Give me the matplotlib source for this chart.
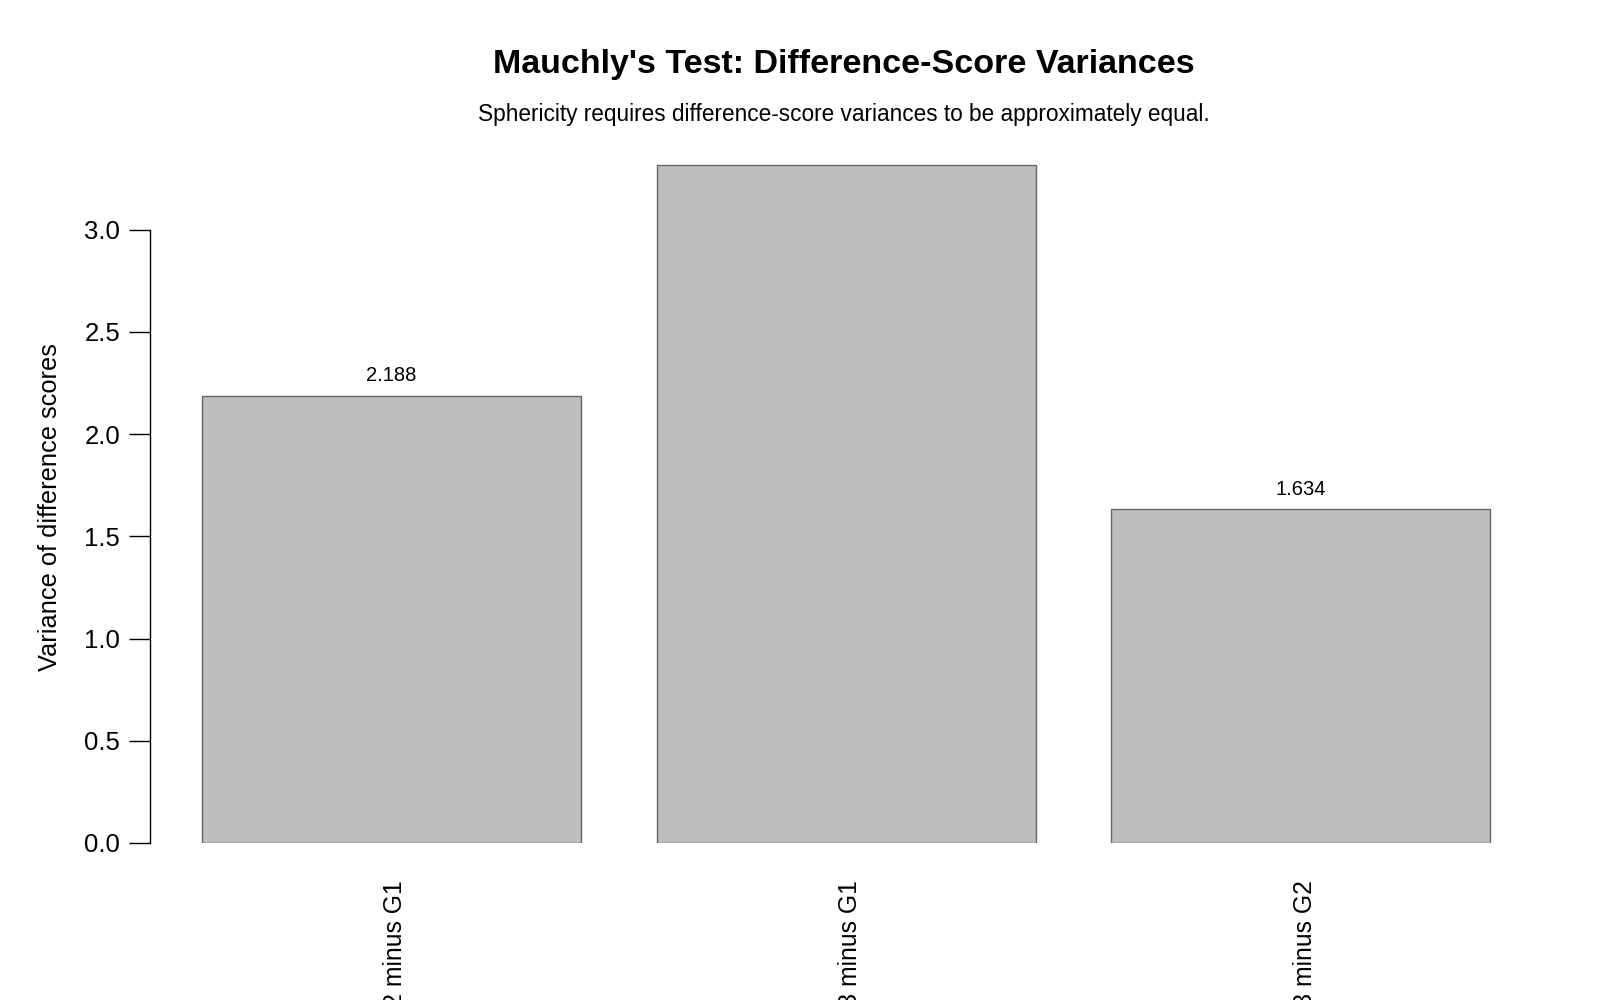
import matplotlib
matplotlib.use("Agg")
import matplotlib.pyplot as plt
import matplotlib.transforms as mtransforms
import numpy as np

plt.rcParams['font.family'] = ['Liberation Sans', 'DejaVu Sans']

# data
comparisons = ['G2 minus G1', 'G3 minus G1', 'G3 minus G2']
variances = [2.188, 3.316, 1.634]
yticks = [0.0, 0.5, 1.0, 1.5, 2.0, 2.5, 3.0]

title = "Mauchly's Test: Difference-Score Variances"
subtitle = "Sphericity requires difference-score variances to be approximately equal."

#########################################################
fig = plt.figure(figsize=(16, 10), dpi=100)

# axes: left edge at the y axis line, bottom at y = 0
ax = fig.add_axes([150 / 1600, 157 / 1000, 1395 / 1600, 689 / 1000])

# R barplot layout: width 1, space 0.2
centers = 0.7 + 1.2 * np.arange(len(variances))
ax.bar(centers, variances, width=1.0, color='#bebebe', edgecolor='#666666', linewidth=1.0)

ax.set_xlim(0.063, 3.744)
ax.set_ylim(0, 3.37)

# value labels above bars (clipped like R does)
for xc, v in zip(centers, variances):
    ax.text(xc, v + 0.05, f"{v:.3f}", ha='center', va='bottom', fontsize=14.5, clip_on=True)

# axes styling
for side in ['top', 'right', 'bottom']:
    ax.spines[side].set_visible(False)
ax.spines['left'].set_bounds(0, 3.0)
ax.spines['left'].set_linewidth(1.0)

ax.set_yticks(yticks)
ax.set_yticklabels([f"{t:.1f}" for t in yticks], fontsize=18.5)
ax.tick_params(axis='y', length=15, width=1.0, pad=6.5)

ax.set_xticks(centers)
ax.set_xticklabels(comparisons, rotation=90, fontsize=17.8, va='top')
ax.tick_params(axis='x', length=0, pad=26.5)
shift = mtransforms.ScaledTranslation(4 / 100, 0, fig.dpi_scale_trans)
for lab in ax.get_xticklabels():
    lab.set_transform(lab.get_transform() + shift)

ax.set_ylabel("Variance of difference scores", fontsize=18.3)
ax.yaxis.set_label_coords(-88 / 1395, (843 - 507) / 689)

fig.text(0.5 * (492 + 1195) / 1600, 1 - 64 / 1000, title, ha='center', va='center',
         fontsize=24.5, fontweight='bold')
fig.text(0.5 * (477 + 1210) / 1600, 1 - 114 / 1000, subtitle, ha='center', va='center',
         fontsize=16.3)

plt.savefig("out.png", dpi=100)
plt.close()
